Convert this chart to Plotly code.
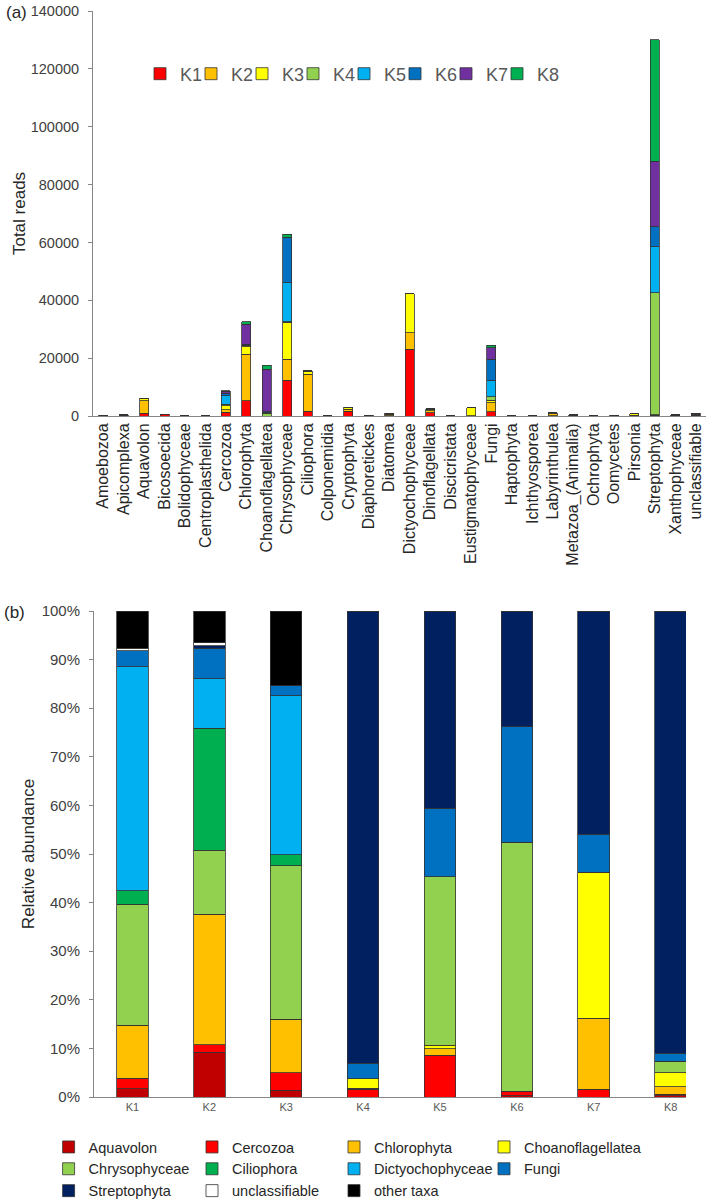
import plotly.graph_objects as go

# ---------------- Panel (a) data ----------------
categories = ["Amoebozoa", "Apicomplexa", "Aquavolon", "Bicosoecida", "Bolidophyceae",
              "Centroplasthelida", "Cercozoa", "Chlorophyta", "Choanoflagellatea",
              "Chrysophyceae", "Ciliophora", "Colponemidia", "Cryptophyta", "Diaphoretickes",
              "Diatomea", "Dictyochophyceae", "Dinoflagellata", "Discicristata",
              "Eustigmatophyceae", "Fungi", "Haptophyta", "Ichthyosporea", "Labyrinthulea",
              "Metazoa_(Animalia)", "Ochrophyta", "Oomycetes", "Pirsonia", "Streptophyta",
              "Xanthophyceae", "unclassifiable"]

K1 = [150, 200, 1000, 500, 100, 100, 1300, 5200, 0, 12400, 1700, 50, 1700, 150, 100,
      23150, 1200, 100, 0, 1400, 100, 100, 100, 200, 100, 200, 0, 100, 200, 300]
K2 = [50, 100, 4300, 100, 0, 50, 800, 16100, 0, 7200, 12700, 50, 600, 100, 500,
      5650, 600, 0, 100, 3200, 0, 0, 900, 100, 0, 100, 200, 100, 100, 300]
K3 = [50, 100, 800, 0, 50, 0, 1400, 2700, 0, 12800, 1150, 0, 500, 0, 300,
      13400, 400, 0, 2800, 900, 0, 0, 200, 50, 0, 0, 600, 200, 100, 300]
K4 = [0, 0, 0, 0, 0, 0, 600, 300, 1000, 100, 100, 0, 100, 0, 0,
      0, 200, 0, 0, 1200, 0, 0, 0, 0, 0, 0, 0, 42200, 0, 0]
K5 = [0, 0, 0, 0, 0, 0, 2900, 200, 200, 13500, 0, 0, 0, 0, 0,
      0, 50, 0, 0, 5700, 0, 0, 0, 0, 0, 0, 0, 15900, 0, 0]
K6 = [0, 0, 0, 0, 0, 0, 800, 300, 300, 15600, 0, 0, 0, 0, 0,
      0, 50, 0, 0, 7300, 0, 0, 0, 0, 0, 0, 0, 6900, 0, 0]
K7 = [0, 0, 0, 0, 0, 0, 700, 7000, 14600, 200, 0, 0, 0, 0, 0,
      0, 0, 0, 0, 3900, 0, 0, 0, 0, 0, 0, 0, 22700, 0, 0]
K8 = [0, 0, 100, 0, 0, 0, 300, 800, 1500, 1000, 50, 0, 50, 0, 0,
      0, 0, 0, 0, 900, 0, 0, 0, 0, 0, 0, 0, 41900, 0, 0]

site_names = ["K1", "K2", "K3", "K4", "K5", "K6", "K7", "K8"]
site_values = [K1, K2, K3, K4, K5, K6, K7, K8]
site_colors = ["#FF0000", "#FFC000", "#FFFF00", "#92D050", "#00B0F0", "#0070C0", "#7030A0", "#00B050"]

# ---------------- Panel (b) data (relative abundance, %) ----------------
sites = ["K1", "K2", "K3", "K4", "K5", "K6", "K7", "K8"]
Aquavolon = [1.7, 9.2, 1.4, 0, 0, 0.3, 0, 0.3]
Cercozoa = [2.2, 1.6, 3.6, 1.6, 8.6, 0.9, 1.6, 0.3]
Chlorophyta = [10.8, 26.8, 11.0, 0.2, 1.3, 0, 14.6, 1.5]
Choanoflagellatea = [0.1, 0, 0, 2.0, 0.8, 0, 30.0, 2.9]
Chrysophyceae = [24.9, 13.2, 31.6, 0, 34.6, 51.2, 0, 2.4]
Ciliophora = [2.7, 25.1, 2.2, 0, 0, 0, 0, 0]
Dictyochophyceae = [46.1, 10.2, 32.8, 0, 0, 0, 0, 0]
Fungi = [3.3, 6.2, 2.0, 3.1, 14.1, 23.8, 7.9, 1.6]
Streptophyta = [0, 0.6, 0, 93.1, 40.6, 23.8, 45.9, 91.0]
unclassifiable = [0.5, 0.6, 0, 0, 0, 0, 0, 0]
other_taxa = [7.7, 6.5, 15.4, 0, 0, 0, 0, 0]

taxa_names = ["Aquavolon", "Cercozoa", "Chlorophyta", "Choanoflagellatea", "Chrysophyceae",
              "Ciliophora", "Dictyochophyceae", "Fungi", "Streptophyta", "unclassifiable", "other taxa"]
taxa_values = [Aquavolon, Cercozoa, Chlorophyta, Choanoflagellatea, Chrysophyceae,
               Ciliophora, Dictyochophyceae, Fungi, Streptophyta, unclassifiable, other_taxa]
taxa_colors = ["#C00000", "#FF0000", "#FFC000", "#FFFF00", "#92D050", "#00B050",
               "#00B0F0", "#0070C0", "#002060", "#FFFFFF", "#000000"]

W, H = 709, 1202
FONT = "Arial, Liberation Sans, sans-serif"
AXIS_GREY = "#868686"
OUTLINE = "#333333"

fig = go.Figure()

for i, (name, vals, col) in enumerate(zip(site_names, site_values, site_colors)):
    fig.add_trace(go.Bar(
        x=categories, y=vals, name=name, marker_color=col,
        marker_line=dict(color=OUTLINE, width=0.8),
        width=0.44, xaxis="x", yaxis="y", legend="legend",
        legendwidth=(26 if i == len(site_names) - 1 else 6)))

# bottom legend laid out as 4 columns (one vertical legend per column)
legend_cols = ["legend2", "legend3", "legend4", "legend5"]
for i, (name, vals, col) in enumerate(zip(taxa_names, taxa_values, taxa_colors)):
    fig.add_trace(go.Bar(
        x=sites, y=vals, name=name, marker_color=col,
        marker_line=dict(color=OUTLINE, width=0.8),
        width=0.41, xaxis="x2", yaxis="y2", legend=legend_cols[i % 4]))

top_dom = [1 - 416 / H, 1 - 11 / H]
bot_dom = [1 - 1097 / H, 1 - 611 / H]

col_text_x = [88.6, 232, 374, 524]
leg_common = dict(orientation="v", xanchor="left", y=1 - 1131 / H, yanchor="top",
                  font=dict(size=14.5, color="#262626"), bgcolor="rgba(0,0,0,0)",
                  traceorder="normal", itemclick=False, tracegroupgap=0)

fig.update_layout(
    width=W, height=H,
    margin=dict(l=0, r=0, t=0, b=0, autoexpand=False),
    paper_bgcolor="white", plot_bgcolor="white",
    barmode="stack",
    font=dict(family=FONT, color="#262626"),
    showlegend=True,
    xaxis=dict(domain=[93 / W, 706 / W], anchor="y", type="category",
               range=[-0.5, 29.5], showline=True, linecolor=AXIS_GREY, linewidth=1,
               ticks="", tickangle=-90, tickfont=dict(size=16, color="#262626"),
               showgrid=False, zeroline=False, fixedrange=True),
    yaxis=dict(domain=top_dom, anchor="x", range=[0, 140000], dtick=20000,
               tickformat="d", showline=True, linecolor=AXIS_GREY, linewidth=1,
               ticks="outside", ticklen=4, tickcolor=AXIS_GREY, ticklabelstandoff=6,
               tickfont=dict(size=14.5, color="#404040"),
               title=dict(text="Total reads", font=dict(size=17, color="#262626"), standoff=0),
               showgrid=False, zeroline=False),
    yaxis3=dict(overlaying="y", anchor="x", range=[0, 140000], dtick=20000,
                ticks="inside", ticklen=4, tickcolor=AXIS_GREY, showticklabels=False,
                showline=False, showgrid=False, zeroline=False),
    xaxis2=dict(domain=[94 / W, 686 / W], anchor="y2", type="category",
                range=[-0.5, 7.2], showline=True, linecolor=AXIS_GREY, linewidth=1,
                ticks="", tickfont=dict(size=11, color="#595959"),
                showgrid=False, zeroline=False),
    yaxis2=dict(domain=bot_dom, anchor="x2", range=[0, 100], dtick=10,
                ticksuffix="%", showline=True, linecolor=AXIS_GREY, linewidth=1,
                ticks="outside", ticklen=4, tickcolor=AXIS_GREY, ticklabelstandoff=6,
                tickfont=dict(size=15, color="#404040"),
                title=dict(text="Relative abundance", font=dict(size=17, color="#262626"), standoff=2),
                showgrid=False, zeroline=False),
    yaxis4=dict(overlaying="y2", anchor="x2", range=[0, 100], dtick=10,
                ticks="inside", ticklen=4, tickcolor=AXIS_GREY, showticklabels=False,
                showline=False, showgrid=False, zeroline=False),
    legend=dict(orientation="h", x=140 / W, xanchor="left", y=1 - 74 / H, yanchor="middle",
                font=dict(size=18, color="#595959"), bgcolor="rgba(0,0,0,0)",
                traceorder="normal", itemclick=False),
    legend2=dict(x=(col_text_x[0] - 40) / W, **leg_common),
    legend3=dict(x=(col_text_x[1] - 40) / W, **leg_common),
    legend4=dict(x=(col_text_x[2] - 40) / W, **leg_common),
    legend5=dict(x=(col_text_x[3] - 40) / W, **leg_common),
    annotations=[
        dict(text="(a)", x=16 / W, y=1 - 13 / H, xref="paper", yref="paper",
             xanchor="center", yanchor="middle",
             showarrow=False, font=dict(size=17, color="#262626")),
        dict(text="(b)", x=14 / W, y=1 - 612 / H, xref="paper", yref="paper",
             xanchor="center", yanchor="middle",
             showarrow=False, font=dict(size=17, color="#262626")),
    ],
)

fig.write_html("out.html")
